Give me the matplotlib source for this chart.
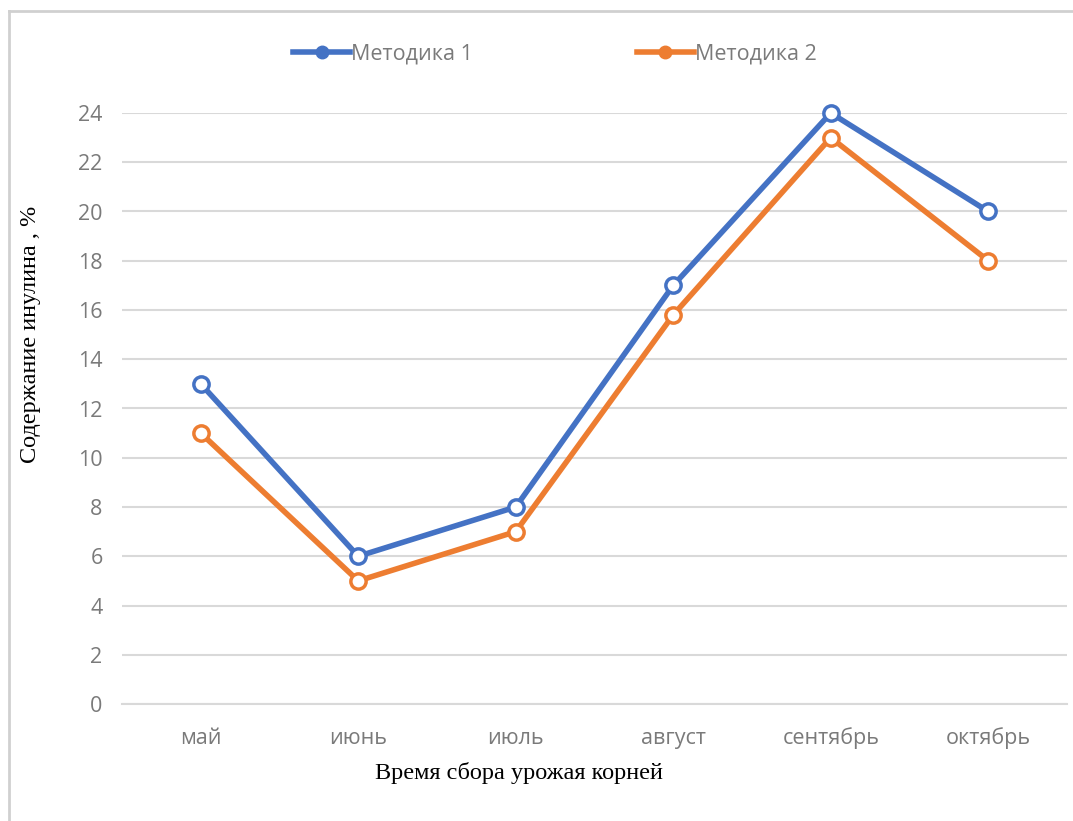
import matplotlib
matplotlib.use("Agg")
import matplotlib.pyplot as plt
from matplotlib.lines import Line2D

months = ["май", "июнь", "июль", "август", "сентябрь", "октябрь"]
method1 = [13, 6, 8, 17, 24, 20]
method2 = [11, 5, 7, 15.8, 23, 18]
series_names = ["Методика 1", "Методика 2"]
y_ticks = list(range(0, 25, 2))

blue = "#4472C4"
orange = "#ED7D31"
tick_color = "#7a7a7a"
grid_color = "#d9d9d9"

W, H = 1073, 821
fig = plt.figure(figsize=(W / 100, H / 100), dpi=100)
ax = fig.add_axes([122 / W, 1 - 704 / H, (1067 - 122) / W, (704 - 113) / H])

x = list(range(len(months)))
for vals, col, name in [(method1, blue, series_names[0]), (method2, orange, series_names[1])]:
    ax.plot(x, vals, color=col, lw=4, marker="o", ms=11, mfc="white",
            mec=col, mew=2.5, label=name, solid_joinstyle="round", zorder=3,
            clip_on=False)

ax.set_xlim(-0.5, len(months) - 0.5)
ax.set_ylim(0, 24)
ax.set_yticks(y_ticks)
ax.set_xticks(x)
ax.set_xticklabels(months)
ax.yaxis.grid(True, color=grid_color, lw=1.5)
ax.set_axisbelow(True)
for s in ["top", "right", "left"]:
    ax.spines[s].set_visible(False)
ax.spines["bottom"].set_color(grid_color)
ax.spines["bottom"].set_linewidth(1.5)
ax.tick_params(axis="both", length=0, labelsize=15.5, colors=tick_color)
ax.tick_params(axis="x", pad=17)
ax.tick_params(axis="y", pad=14)
for lbl in ax.get_xticklabels() + ax.get_yticklabels():
    lbl.set_fontfamily("Open Sans")

fig.text(519 / W, 1 - 773 / H, "Время сбора урожая корней", fontfamily="Liberation Serif",
         fontsize=17.5, color="black", ha="center", va="center")
fig.text(31 / W, 1 - 334 / H, "Содержание инулина , %", fontfamily="Liberation Serif",
         fontsize=17.5, color="black", ha="center", va="center", rotation=90)

handles = [Line2D([0], [0], color=blue, lw=4, marker="o", ms=9, mfc=blue, mec=blue),
           Line2D([0], [0], color=orange, lw=4, marker="o", ms=9, mfc=orange, mec=orange)]
leg = fig.legend(handles, series_names, loc="center", bbox_to_anchor=(555 / W, 1 - 54 / H),
                 ncol=2, frameon=False, columnspacing=7.6, handlelength=2.65,
                 handletextpad=0.05, prop={"family": "Open Sans", "size": 15.5})
for t in leg.get_texts():
    t.set_color(tick_color)

# outer frame lines along top and left
fig.add_artist(Line2D([9 / W, 9 / W], [0, 1 - 11 / H], color="#d0d0d0", lw=2,
                      transform=fig.transFigure))
fig.add_artist(Line2D([9 / W, 1], [1 - 11 / H, 1 - 11 / H], color="#d0d0d0", lw=2,
                      transform=fig.transFigure))

fig.savefig("out.png", dpi=100, facecolor="white")
